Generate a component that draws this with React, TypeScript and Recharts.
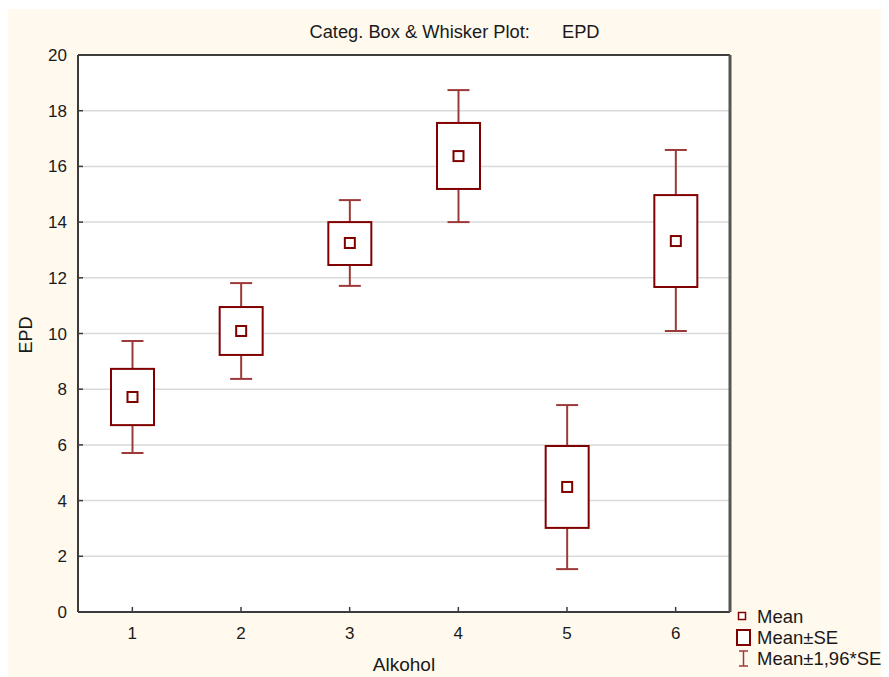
import React from 'react';
import { ComposedChart, Bar, XAxis, YAxis, CartesianGrid } from 'recharts';

const categories = ['1', '2', '3', '4', '5', '6'];
const means = [7.72, 10.09, 13.25, 16.37, 4.49, 13.32];
const seLow = [6.71, 9.23, 12.46, 15.19, 3.02, 11.67];
const seHigh = [8.73, 10.95, 14.0, 17.56, 5.96, 14.97];
const ciLow = [5.71, 8.37, 11.71, 14.0, 1.54, 10.09];
const ciHigh = [9.73, 11.81, 14.79, 18.74, 7.43, 16.59];
const yTicks = [0, 2, 4, 6, 8, 10, 12, 14, 16, 18, 20];

const data = categories.map((c, i) => ({
  cat: c,
  mean: means[i],
  seLow: seLow[i],
  seHigh: seHigh[i],
  ciLow: ciLow[i],
  ciHigh: ciHigh[i],
}));

const DARK = '#800000';
const WHISK = '#9c3a3a';
const FONT = 'Arial, "Liberation Sans", sans-serif';

const BoxShape = (props: any) => {
  const { x, y, width, height, payload } = props;
  const hi = payload.ciHigh;
  const lo = payload.ciLow;
  const k = height / (hi - lo);
  const toY = (v: number) => y + (hi - v) * k;
  const cx = x + width / 2;
  const bw = 43;
  const cw = 22;
  const ms = 10;
  const yTop = toY(payload.seHigh);
  const yBot = toY(payload.seLow);
  const yMean = toY(payload.mean);
  return (
    <g>
      <line x1={cx} x2={cx} y1={toY(hi)} y2={yTop} stroke={WHISK} strokeWidth={2} />
      <line x1={cx} x2={cx} y1={yBot} y2={toY(lo)} stroke={WHISK} strokeWidth={2} />
      <line x1={cx - cw / 2} x2={cx + cw / 2} y1={toY(hi)} y2={toY(hi)} stroke={WHISK} strokeWidth={2} />
      <line x1={cx - cw / 2} x2={cx + cw / 2} y1={toY(lo)} y2={toY(lo)} stroke={WHISK} strokeWidth={2} />
      <rect x={cx - bw / 2} y={yTop} width={bw} height={yBot - yTop} fill="#ffffff" stroke={DARK} strokeWidth={2} />
      <rect x={cx - ms / 2} y={yMean - ms / 2} width={ms} height={ms} fill="#ffffff" stroke={DARK} strokeWidth={2} />
    </g>
  );
};

export default function App() {
  const W = 882;
  const H = 668;
  return (
    <div
      style={{
        position: 'relative',
        width: W,
        height: H,
        marginLeft: -1,
        marginTop: 1,
        background: '#fff9ee',
        fontFamily: FONT,
      }}
    >
      <ComposedChart
        width={W}
        height={H}
        data={data}
        margin={{ top: 45, right: 158, bottom: 64, left: 0 }}
      >
        <CartesianGrid
          xAxisId="b"
          yAxisId="l"
          horizontal={true}
          vertical={false}
          stroke="#d9d9d9"
          strokeWidth={1.5}
          fill="#ffffff"
          fillOpacity={1}
        />
        <XAxis
          dataKey="cat"
          xAxisId="b"
          orientation="bottom"
          height={1}
          tickSize={-5}
          tickMargin={20}
          axisLine={{ stroke: '#3c3c3c', strokeWidth: 2 }}
          tickLine={{ stroke: '#3c3c3c', strokeWidth: 1.5 }}
          tick={{ fill: '#1a1a1a', fontSize: 17, fontFamily: FONT }}
        />
        <XAxis
          dataKey="cat"
          xAxisId="t"
          orientation="top"
          height={1}
          tickSize={-5}
          tick={false}
          axisLine={{ stroke: '#3c3c3c', strokeWidth: 2 }}
          tickLine={{ stroke: '#3c3c3c', strokeWidth: 1.5 }}
        />
        <YAxis
          yAxisId="l"
          orientation="left"
          width={71}
          domain={[0, 20]}
          ticks={yTicks}
          allowDataOverflow
          tickSize={-5}
          tickMargin={16}
          axisLine={{ stroke: '#3c3c3c', strokeWidth: 2 }}
          tickLine={{ stroke: '#3c3c3c', strokeWidth: 1.5 }}
          tick={{ fill: '#1a1a1a', fontSize: 17, fontFamily: FONT }}
        />
        <YAxis
          yAxisId="r"
          orientation="right"
          width={1}
          domain={[0, 20]}
          ticks={yTicks}
          allowDataOverflow
          tickSize={-5}
          tick={false}
          axisLine={{ stroke: '#555555', strokeWidth: 3 }}
          tickLine={{ stroke: '#3c3c3c', strokeWidth: 1.5 }}
        />
        <Bar
          xAxisId="b"
          yAxisId="l"
          dataKey={(d: any) => [d.ciLow, d.ciHigh]}
          barSize={43}
          shape={BoxShape}
          isAnimationActive={false}
        />
      </ComposedChart>
      <svg
        width={W}
        height={H}
        style={{ position: 'absolute', left: 0, top: 0, pointerEvents: 'none' }}
        fontFamily={FONT}
      >
        <text x={447.5} y={29} textAnchor="middle" fontSize={18.3} fill="#1a1a1a">
          Categ. Box &amp; Whisker Plot:<tspan dx={32}>EPD</tspan>
        </text>
        <text
          x={0}
          y={0}
          transform="translate(25,326) rotate(-90)"
          textAnchor="middle"
          fontSize={18}
          fill="#1a1a1a"
        >
          EPD
        </text>
        <text x={397} y={662} textAnchor="middle" fontSize={19} fill="#1a1a1a">
          Alkohol
        </text>
        <rect x={731.5} y={603.5} width={7} height={7} fill="#ffffff" stroke={DARK} strokeWidth={1.5} />
        <text x={750} y={614} fontSize={18.5} fill="#1a1a1a">Mean</text>
        <rect x={730} y={621} width={13} height={15} fill="#ffffff" stroke={DARK} strokeWidth={2} />
        <text x={750} y={635} fontSize={18.5} fill="#1a1a1a">Mean±SE</text>
        <line x1={736.5} x2={736.5} y1={642} y2={657} stroke={WHISK} strokeWidth={1.5} />
        <line x1={732} x2={741} y1={642} y2={642} stroke={WHISK} strokeWidth={1.5} />
        <line x1={732} x2={741} y1={657} y2={657} stroke={WHISK} strokeWidth={1.5} />
        <text x={750} y={656} fontSize={18.5} fill="#1a1a1a">Mean±1,96*SE</text>
      </svg>
    </div>
  );
}
